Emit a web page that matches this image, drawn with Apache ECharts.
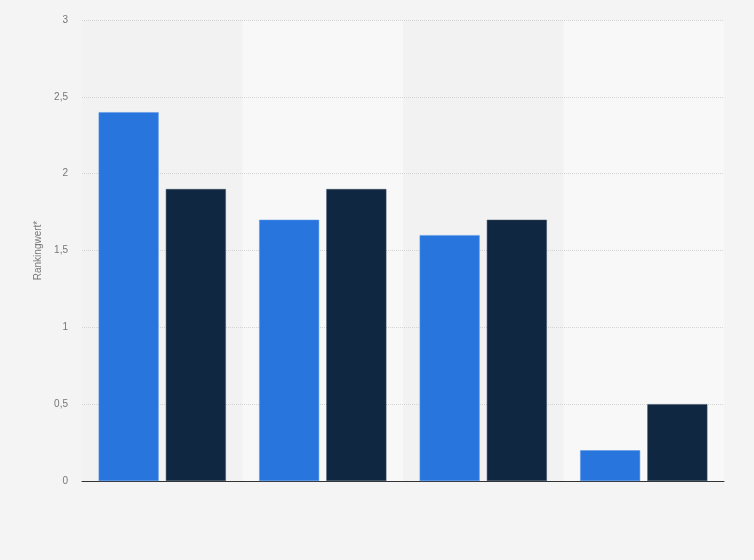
<!DOCTYPE html>
<html>
<head>
<meta charset="utf-8">
<script src="https://cdn.jsdelivr.net/npm/echarts@6/dist/echarts.min.js"></script>
<style>
  html, body { margin: 0; padding: 0; background: #f4f4f4; }
  #chart { width: 754px; height: 560px; }
</style>
</head>
<body>
<div id="chart"></div>
<script>
var categories = ['A', 'B', 'C', 'D'];
var seriesBlue = [2.4, 1.7, 1.6, 0.2];
var seriesDark = [1.9, 1.9, 1.7, 0.5];
var yTicks = { min: 0, max: 3, interval: 0.5 };

var myChart = echarts.init(document.getElementById('chart'));

var option = {
    backgroundColor: '#f4f4f4',
    animation: false,
    grid: {
        left: 82,
        right: 30,
        top: 20,
        bottom: 79
    },
    xAxis: {
        type: 'category',
        data: categories,
        z: 1,
        axisLabel: { show: false },
        axisTick: { show: false },
        axisLine: { lineStyle: { color: '#333', width: 1 } },
        splitArea: {
            show: true,
            areaStyle: { color: ['#f2f2f2', '#f8f8f8'] }
        }
    },
    yAxis: {
        type: 'value',
        z: 3,
        min: yTicks.min,
        max: yTicks.max,
        interval: yTicks.interval,
        name: 'Rankingwert*',
        nameLocation: 'middle',
        nameGap: 34,
        nameTextStyle: { color: '#777', fontSize: 10, fontFamily: 'Arial' },
        axisLine: { show: false },
        axisTick: { show: false },
        axisLabel: {
            color: '#777',
            fontSize: 10,
            fontFamily: 'Arial',
            margin: 14,
            formatter: function(v) { return String(v).replace('.', ','); }
        },
        splitLine: {
            showMinLine: false,
            lineStyle: { color: '#d4d4d4', type: 'dotted', width: 1 }
        }
    },
    series: [{
        type: 'bar',
        z: 5,
        data: seriesBlue,
        barWidth: 60,
        barGap: '12%',
        itemStyle: { color: '#2876dd', borderColor: '#5a95e6', borderWidth: 0.5 }
    }, {
        type: 'bar',
        z: 5,
        data: seriesDark,
        barWidth: 60,
        barGap: '12%',
        itemStyle: { color: '#0f2740', borderColor: '#3a4f63', borderWidth: 0.5 }
    }]
};

myChart.setOption(option);
</script>
</body>
</html>
